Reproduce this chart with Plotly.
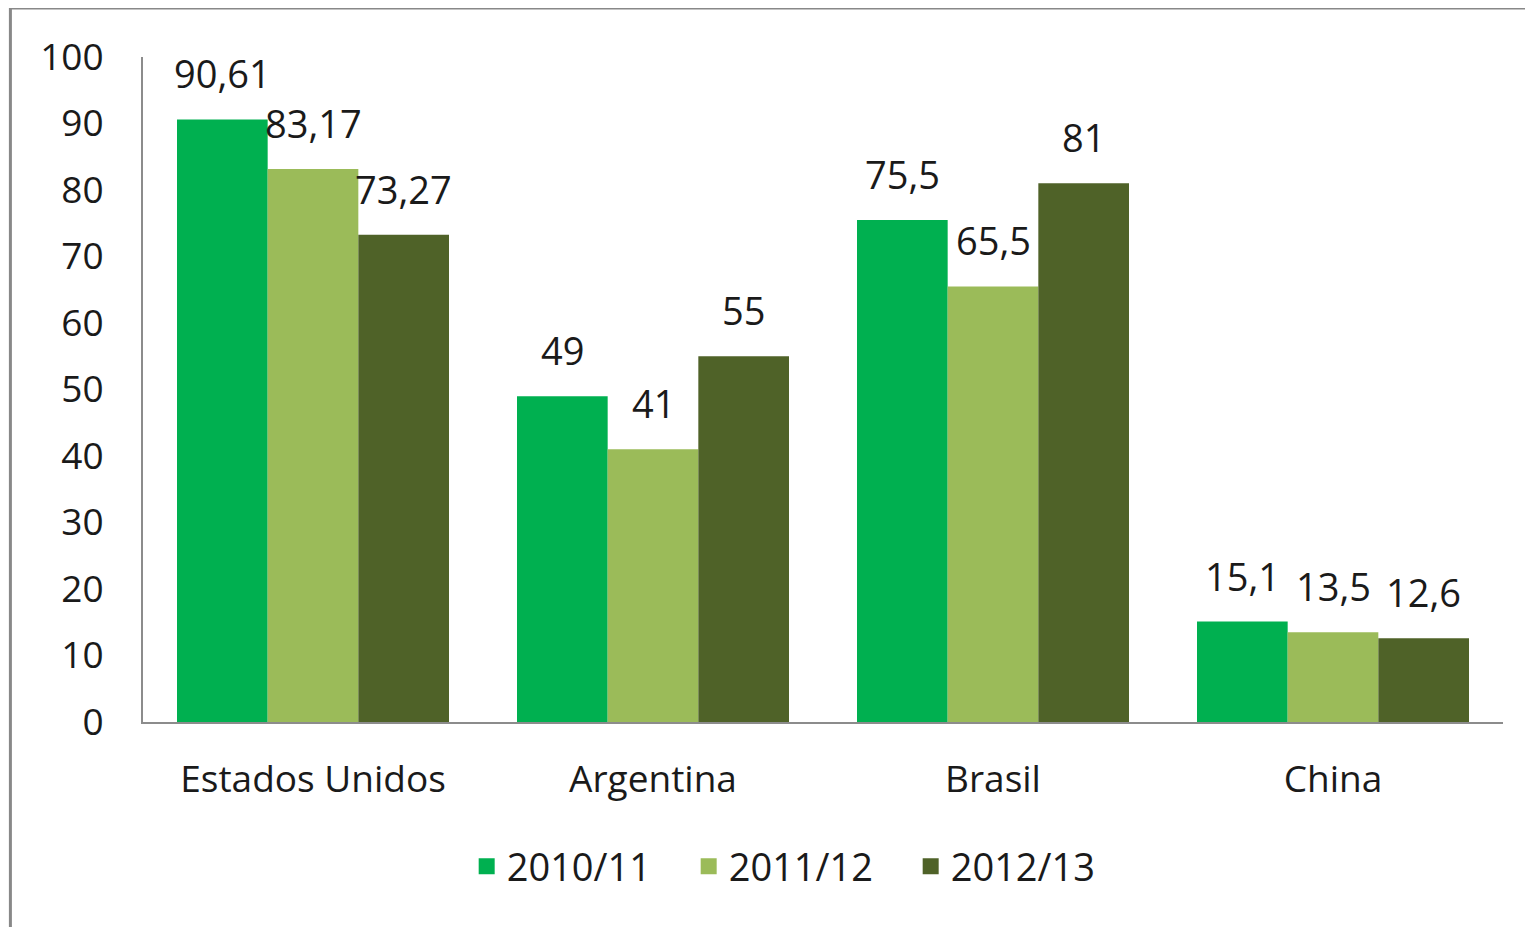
import plotly.graph_objects as go

categories = ["Estados Unidos", "Argentina", "Brasil", "China"]
series_names = ["2010/11", "2011/12", "2012/13"]
values_2010 = [90.61, 49, 75.5, 15.1]
values_2011 = [83.17, 41, 65.5, 13.5]
values_2012 = [73.27, 55, 81, 12.6]
colors = ["#00B050", "#9BBB59", "#4F6228"]
y_ticks = [0, 10, 20, 30, 40, 50, 60, 70, 80, 90, 100]

series = [values_2010, values_2011, values_2012]

FONT = "Open Sans"
TXT = "#1a1a1a"
BARGAP = 0.2

def fmt(v):
    return f"{v:g}".replace(".", ",")

fig = go.Figure()
for name, vals, col in zip(series_names, series, colors):
    fig.add_trace(go.Bar(x=categories, y=vals, name=name, showlegend=False,
                         marker=dict(color=col, line=dict(width=0))))
# legend entries with larger square swatches
for name, col in zip(series_names, colors):
    fig.add_trace(go.Scatter(x=[None], y=[None], mode="markers", name=name,
                             marker=dict(symbol="square", size=18, color=col)))

annotations = []
n = len(series)
w = (1 - BARGAP) / n
for i, vals in enumerate(series):
    off = (i - (n - 1) / 2) * w
    for j, v in enumerate(vals):
        annotations.append(dict(x=j + off, y=v, xref="x", yref="y", text=fmt(v),
                                showarrow=False, yanchor="bottom", yshift=18,
                                font=dict(family=FONT, size=38, color=TXT)))

fig.update_layout(
    width=1525, height=919,
    paper_bgcolor="white", plot_bgcolor="white",
    margin=dict(l=135, r=30, t=49, b=205),
    barmode="group", bargap=BARGAP, bargroupgap=0,
    font=dict(family=FONT, size=37, color=TXT),
    showlegend=True,
    legend=dict(orientation="h", x=0.238, xanchor="left", y=-0.17, yanchor="top",
                font=dict(family=FONT, size=38, color=TXT), itemwidth=30,
                entrywidth=177, entrywidthmode="pixels",
                traceorder="normal"),
    annotations=annotations,
    shapes=[dict(type="rect", xref="paper", yref="paper",
                 x0=-0.0975, x1=1.2, y0=-0.6, y1=1.0735,
                 line=dict(color="#888888", width=3), fillcolor="rgba(0,0,0,0)", layer="below")],
)
fig.update_xaxes(showline=True, linecolor="#8c8c8c", linewidth=2, showgrid=False, ticks="",
                 tickfont=dict(family=FONT, size=37, color=TXT), ticklabelstandoff=24)
fig.update_yaxes(range=[0, 100], tickvals=y_ticks, showline=True, linecolor="#8c8c8c", linewidth=2,
                 showgrid=False, zeroline=False, ticks="", ticklabelstandoff=30,
                 tickfont=dict(family=FONT, size=37, color=TXT))

fig.write_html("out.html")
